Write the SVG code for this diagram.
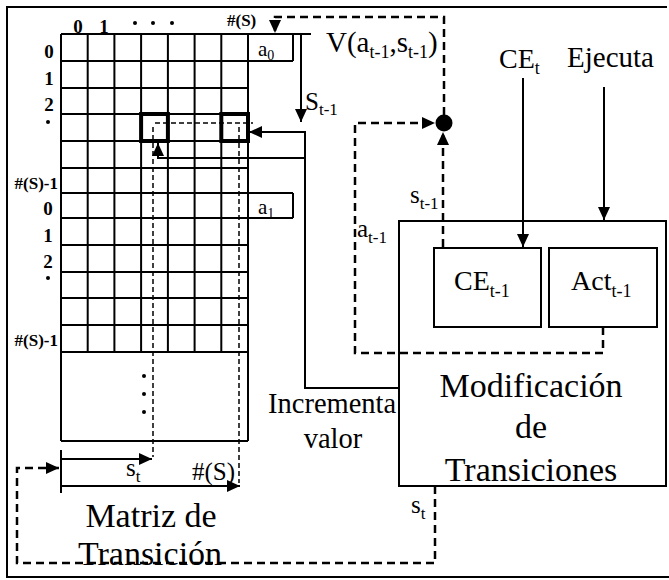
<svg xmlns="http://www.w3.org/2000/svg" width="669" height="580" viewBox="0 0 669 580" font-family="Liberation Serif">
<defs>
<marker id="ah" viewBox="0 0 13 12" refX="13" refY="6" markerWidth="13" markerHeight="12" orient="auto" markerUnits="userSpaceOnUse"><path d="M0,0 L13,6 L0,12 z" fill="#000"/></marker>
<style>
.ln{stroke:#000;stroke-width:2;fill:none}
.tk{stroke:#000;stroke-width:4;fill:none}
.ds{stroke:#000;stroke-width:2.5;fill:none;stroke-dasharray:8 5}
.dt{stroke:#000;stroke-width:1.5;fill:none;stroke-dasharray:5 3}
.box{stroke:#000;stroke-width:2;fill:#fff}
.gl{font-size:19px;font-weight:bold;text-anchor:middle}
.gs{font-size:17px;font-weight:bold}
.big{font-size:34px;text-anchor:middle}
.mid{font-size:28px}
.sm{font-size:25px}
</style>
</defs>
<rect width="669" height="580" fill="#fff"/>
<g id="frame"><path d="M667,7 H7 V577 H669" class="ln" stroke="#333"/></g>

<g id="matrix">
<path class="ln" d="M61,34 V441 M87.7,34 V352 M114.4,34 V352 M141.1,34 V352 M167.9,34 V352 M194.6,34 V352 M221.3,34 V352 M248,34 V441 M61,34 H311 M61,61 H293 M61,88 H248 M61,114 H248 M61,141 H248 M61,168 H248 M61,193 H293 M61,218 H293 M61,245 H248 M61,272 H248 M61,298 H248 M61,325 H248 M61,352 H248 M61,441 H248 M293,34 V61 M293,193 V218"/>
<rect class="tk" x="141.1" y="114" width="26.8" height="27"/>
<rect class="tk" x="221.3" y="114" width="26.7" height="27"/>
<text class="gl" x="78" y="33">0</text>
<text class="gl" x="104" y="33">1</text>
<text class="gl" x="49" y="58">0</text>
<text class="gl" x="49" y="85">1</text>
<text class="gl" x="49" y="111">2</text>
<text class="gl" x="48" y="215">0</text>
<text class="gl" x="48" y="242">1</text>
<text class="gl" x="48" y="268">2</text>
<text class="gs" x="227" y="26">#(S)</text>
<text class="gs" x="58" y="189" text-anchor="end">#(S)-1</text>
<text class="gs" x="58" y="346" text-anchor="end">#(S)-1</text>
<g fill="#000">
<circle cx="135" cy="23" r="2"/><circle cx="153" cy="23" r="2"/><circle cx="172" cy="23" r="2"/>
<circle cx="48" cy="122" r="2"/><circle cx="48" cy="278" r="2"/>
<circle cx="144" cy="376" r="2"/><circle cx="144" cy="394" r="2"/><circle cx="144" cy="412" r="2"/>
</g>
<text x="258" y="56" font-size="21">a<tspan font-size="14" dy="4">0</tspan></text>
<text x="258" y="214" font-size="21">a<tspan font-size="14" dy="4">1</tspan></text>
<text class="big" x="151" y="527">Matriz de</text>
<text class="big" x="150" y="565">Transición</text>
</g>

<g id="modificacion">
<rect class="box" x="399" y="221" width="267" height="265"/>
<text class="big" x="531" y="397">Modificación</text>
<text class="big" x="531" y="438">de</text>
<text class="big" x="531" y="481">Transiciones</text>
</g>
<g id="ce_prev">
<rect class="box" x="434" y="248" width="107" height="79"/>
<text class="mid" x="454" y="290">CE<tspan font-size="18" dy="7">t-1</tspan></text>
</g>
<g id="act_prev">
<rect class="box" x="549" y="248" width="108" height="79"/>
<text class="mid" x="571" y="290">Act<tspan font-size="18" dy="7">t-1</tspan></text>
</g>
<g id="junction"><circle cx="444" cy="123" r="8.5" fill="#000"/></g>

<g id="connectors">
<path class="ln" d="M399,388 H305 V132 H249" marker-end="url(#ah)"/>
<path class="ln" d="M305,158 H158 V143" marker-end="url(#ah)"/>
<path class="ln" d="M301,34 V122" marker-end="url(#ah)"/>
<path class="ln" d="M523,78 V247" marker-end="url(#ah)"/>
<path class="ln" d="M604,87 V220" marker-end="url(#ah)"/>
<path class="ln" d="M61,459 H152" marker-end="url(#ah)"/>
<path class="ln" d="M61,486 H240" marker-end="url(#ah)"/>
<path class="ln" d="M61,450 V493"/>
<path class="dt" d="M155,123 H253 M153,127 V457 M239,127 V483"/>
<path class="ds" d="M444,115 V17 H275 V33" marker-end="url(#ah)"/>
<path class="ds" d="M603,327 V353 H355 V123 H435" marker-end="url(#ah)"/>
<path class="ds" d="M443,247 V132" marker-end="url(#ah)"/>
<path class="ds" d="M435,486 V563 H17 V468 H59" marker-end="url(#ah)"/>
<text class="mid" x="499" y="68">CE<tspan font-size="18" dy="6">t</tspan></text>
<text x="567" y="67" font-size="29">Ejecuta</text>
<text x="326" y="52" font-size="29">V(a<tspan font-size="18" dy="6">t-1</tspan><tspan dy="-6">,s</tspan><tspan font-size="18" dy="6">t-1</tspan><tspan dy="-6">)</tspan></text>
<text class="sm" x="305" y="110">S<tspan font-size="17" dy="5">t-1</tspan></text>
<text class="sm" x="410" y="203">s<tspan font-size="17" dy="6">t-1</tspan></text>
<text class="sm" x="357" y="237">a<tspan font-size="17" dy="6">t-1</tspan></text>
<text class="sm" x="411" y="513">s<tspan font-size="17" dy="6">t</tspan></text>
<text class="sm" x="126" y="476">s<tspan font-size="17" dy="6">t</tspan></text>
<text class="sm" x="192" y="480">#(S)</text>
<text x="268" y="413" font-size="28.5">Incrementa</text>
<text x="333" y="448" font-size="28.5" text-anchor="middle">valor</text>
</g>
</svg>
